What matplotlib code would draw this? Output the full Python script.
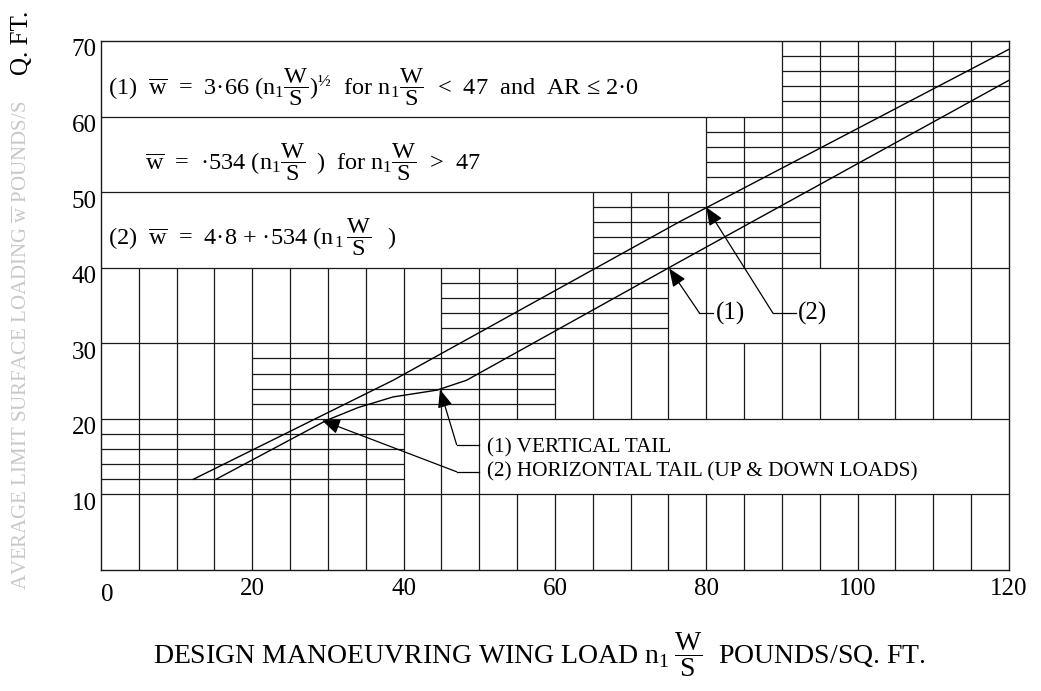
import matplotlib
matplotlib.use("Agg")
import matplotlib.pyplot as plt
from matplotlib.transforms import ScaledTranslation

plt.rcParams["font.family"] = ["Liberation Serif", "DejaVu Serif"]
plt.rcParams["mathtext.fontset"] = "custom"
plt.rcParams["mathtext.rm"] = "Liberation Serif"
plt.rcParams["mathtext.it"] = "Liberation Serif:italic"
plt.rcParams["mathtext.bf"] = "Liberation Serif:bold"

# curves (x = n1 W/S, y = w bar)
vt_x = [15.2, 29.8, 34.0, 38.6, 44.4, 48.3, 76.5, 120.0]
vt_y = [12.0, 19.8, 21.5, 22.9, 23.8, 25.1, 40.8, 64.8]
ht_x = [12.2, 38.6, 76.5, 120.0]
ht_y = [12.0, 25.1, 46.1, 68.9]

x_ticks = [0, 20, 40, 60, 80, 100, 120]
y_ticks = [10, 20, 30, 40, 50, 60, 70]

# chart paper: bands of vertical rulings and finely ruled (2 unit) zones
vert_bands = [
    (0, 10, list(range(5, 120, 5))),
    (10, 20, list(range(5, 55, 5))),
    (20, 30, list(range(5, 120, 5))),
    (30, 40, [*range(5, 85, 5), 90, 100, 105, 110, 115]),
    (40, 50, list(range(65, 120, 5))),
    (50, 60, list(range(80, 120, 5))),
    (60, 70, list(range(90, 120, 5))),
]
fine_zones = [
    (10, 20, 0, 40),
    (20, 30, 20, 60),
    (30, 40, 45, 75),
    (40, 50, 65, 95),
    (50, 60, 80, 120),
    (60, 70, 90, 120),
]

fig = plt.figure(figsize=(10.41, 6.91), dpi=100)
ax = fig.add_axes([0.0970, 0.1751, 0.8722, 0.7656])
ax.set_xlim(0, 120)
ax.set_ylim(0, 70)

lc = "#1a1a1a"
lw = 0.9
for y0, y1, xs in vert_bands:
    ax.vlines(xs, y0, y1, color=lc, lw=lw)
for y0, y1, x0, x1 in fine_zones:
    ax.hlines([y0 + 2, y0 + 4, y0 + 6, y0 + 8], x0, x1, color=lc, lw=lw)
ax.hlines(y_ticks[:-1], 0, 120, color=lc, lw=lw)

ax.plot(vt_x, vt_y, color="black", lw=1.0)
ax.plot(ht_x, ht_y, color="black", lw=1.0)

for s in ax.spines.values():
    s.set_linewidth(1.0)
    s.set_color(lc)

ax.set_xticks(x_ticks)
ax.set_yticks(y_ticks)
ax.tick_params(length=0, labelsize=18)
ax.tick_params(axis="x", pad=6)
ax.tick_params(axis="y", pad=3)
xl = ax.get_xticklabels()
xl[0].set_horizontalalignment("left")
xl[0].set_transform(xl[0].get_transform() + ScaledTranslation(0, -0.06, fig.dpi_scale_trans))
for lab in ax.get_yticklabels():
    lab.set_transform(lab.get_transform() + ScaledTranslation(0, -0.07, fig.dpi_scale_trans))


def leader(tip, corner, end):
    ax.plot([corner[0], end[0]], [corner[1], end[1]], color="black", lw=0.9)
    ax.annotate("", xy=tip, xytext=corner,
                arrowprops=dict(arrowstyle="-|>,head_length=1.1,head_width=0.45",
                                color="black", lw=0.9, mutation_scale=10,
                                shrinkA=0, shrinkB=0))


leader((75.1, 39.9), (79.1, 34.0), (80.9, 34.0))
leader((80.0, 48.0), (88.8, 34.0), (91.9, 34.0))
leader((44.8, 23.9), (47.0, 16.6), (49.9, 16.6))
leader((29.2, 19.8), (47.0, 13.0), (49.9, 13.0))

ax.text(81.3, 33.9, "(1)", fontsize=18, va="center", ha="left")
ax.text(92.1, 33.9, "(2)", fontsize=18, va="center", ha="left")
ax.text(51.0, 16.1, "(1) VERTICAL TAIL", fontsize=15.3, va="center", ha="left")
ax.text(51.0, 13.0, "(2) HORIZONTAL TAIL (UP & DOWN LOADS)", fontsize=15.3,
        va="center", ha="left")

frac = r"\dfrac{\mathrm{W}}{\mathrm{S}}"
wbar = r"$\overline{\mathrm{w}}$"
f1 = ("(1)  " + wbar + "  =  3·66 $(\\mathrm{n}_1" + frac + ")^{\\mathrm{½}}$  for $\\mathrm{n}_1"
      + frac + "$  <  47  and  AR ≤ 2·0")
f2 = (wbar + "  =  ·534 $(\\mathrm{n}_1" + frac + r"\;\;)$  for $\mathrm{n}_1" + frac
      + "$  >  47")
f3 = "(2)  " + wbar + "  =  4·8 + ·534 $(\\mathrm{n}_{\\,1}\\," + frac + r"\;\;\;)$"
ax.text(0.9, 63.9, f1, fontsize=17.5, va="center", ha="left")
ax.text(5.8, 54.0, f2, fontsize=17.5, va="center", ha="left")
ax.text(0.9, 44.1, f3, fontsize=17.5, va="center", ha="left")

fig.text(0.518, 0.052,
         r"DESIGN MANOEUVRING WING LOAD $\mathrm{n}_1\;" + frac + r"$  POUNDS/SQ. FT.",
         fontsize=20, ha="center", va="center")

fig.text(0.021, 0.938, "Q. FT.", rotation=90, fontsize=18, ha="center", va="center")
fig.text(0.021, 0.50, "AVERAGE LIMIT SURFACE LOADING " + wbar + " POUNDS/S",
         rotation=90, fontsize=15, ha="center", va="center", color="#c8c8c8")

fig.savefig("out.png", dpi=100)
